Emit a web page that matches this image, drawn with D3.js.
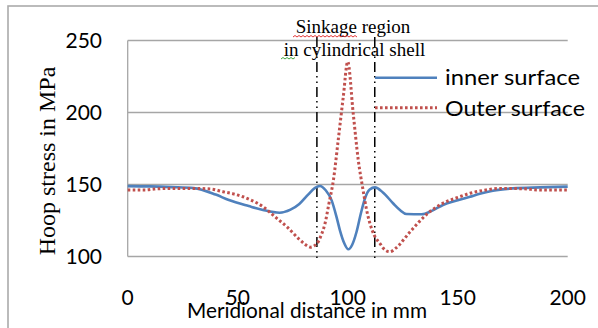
<!DOCTYPE html>
<html>
<head>
<meta charset="utf-8">
<script src="https://cdn.jsdelivr.net/npm/d3@7"></script>
<style>
  body { margin: 0; background: #fff; }
  .grid { stroke: #a6a6a6; stroke-width: 1.3; }
  .tick-label { font-family: Lato, "Open Sans", sans-serif; font-size: 21px; fill: #000; }
</style>
</head>
<body>
<div id="chart"></div>
<script>
// values
const innerX = [0, 10, 20, 30, 40, 46, 55, 61.5, 69, 74, 78, 82, 85, 87.4, 90, 92.7, 95, 96.5, 98.5, 100.3, 102, 104, 106, 108, 110, 112.4, 116, 120.6, 124, 126.7, 133.6, 138, 143.3, 150, 155.6, 160, 166, 175, 187.4, 200];
const innerY = [148.9, 148.7, 148.2, 147.5, 143, 139.2, 135, 132.3, 130.4, 132.5, 136.5, 143, 147.5, 149, 146, 139, 127, 118, 109, 105, 108, 117, 130, 141, 146.5, 148, 144.5, 137, 132, 129.5, 129.3, 131.5, 135.8, 139, 141.5, 143.5, 145.7, 147.3, 148, 148.5];

const outerX = [0, 8, 12, 20, 30, 38, 43.3, 48, 52.4, 57, 61.5, 67, 72.3, 78.3, 81, 83, 86, 88, 89.7, 91.5, 93.5, 95.7, 98, 100, 102.5, 104.8, 107, 108.5, 110.1, 112, 114.7, 117, 119.2, 122, 128.3, 135.9, 143.3, 150, 155.6, 162, 169, 180, 187.4, 200];
const outerY = [146.2, 146.2, 146.8, 147.3, 147.3, 146.8, 145, 143.5, 141.5, 138.5, 134.6, 127.5, 120.7, 111.5, 108, 106.5, 109, 115, 123, 137, 153, 181, 211, 235.3, 199.4, 167, 146, 133, 123, 115, 109, 104.5, 103.3, 106, 117, 129.3, 137, 141, 143.9, 146, 147.3, 147, 146.2, 146.2];

const sinkageBounds = [86, 112.3];
const xTicks = [0, 50, 100, 150, 200];
const yTicks = [100, 150, 200, 250];
const seriesNames = ["inner surface", "Outer surface"];

const inner = innerX.map((x, i) => ({x: x, y: innerY[i]}));
const outer = outerX.map((x, i) => ({x: x, y: outerY[i]}));

const w = 598;
const h = 328;

const svg = d3.select("#chart")
  .append("svg")
  .attr("width", w)
  .attr("height", h);

// outer frame of the chart object
svg.append("rect")
  .attr("x", 8)
  .attr("y", 6)
  .attr("width", w)
  .attr("height", h)
  .attr("fill", "none")
  .attr("stroke", "#ababab")
  .attr("stroke-width", 1.6);

const xScale = d3.scaleLinear()
  .domain([0, 200])
  .range([127.7, 567.7]);

const yScale = d3.scaleLinear()
  .domain([100, 250])
  .range([256.5, 40.5]);

// horizontal gridlines
svg.append("g")
  .selectAll("line")
  .data(yTicks)
  .join("line")
  .attr("class", "grid")
  .attr("x1", xScale(0))
  .attr("x2", xScale(200))
  .attr("y1", d => yScale(d))
  .attr("y2", d => yScale(d));

// left axis line
svg.append("line")
  .attr("class", "grid")
  .attr("x1", xScale(0))
  .attr("x2", xScale(0))
  .attr("y1", yScale(250))
  .attr("y2", yScale(100));

svg.append("g")
  .selectAll("text")
  .data(yTicks)
  .join("text")
  .attr("class", "tick-label")
  .attr("x", 102)
  .attr("y", d => yScale(d) + 7.5)
  .attr("text-anchor", "end")
  .text(d => d);

svg.append("g")
  .selectAll("text")
  .data(xTicks)
  .join("text")
  .attr("class", "tick-label")
  .attr("x", d => xScale(d))
  .attr("y", 305)
  .attr("text-anchor", "middle")
  .text(d => d);

// sinkage region boundaries
svg.append("g")
  .selectAll("line")
  .data(sinkageBounds)
  .join("line")
  .attr("x1", d => xScale(d))
  .attr("x2", d => xScale(d))
  .attr("y1", 37)
  .attr("y2", 262)
  .attr("stroke", "#000")
  .attr("stroke-width", 1.5)
  .attr("stroke-dasharray", "10,4,1.5,4,1.5,4");

const line = d3.line()
  .x(d => xScale(d.x))
  .y(d => yScale(d.y))
  .curve(d3.curveMonotoneX);

svg.append("path")
  .datum(inner)
  .attr("d", line)
  .attr("fill", "none")
  .attr("stroke", "#4f81bd")
  .attr("stroke-width", 2.6);

svg.append("path")
  .datum(outer)
  .attr("d", line)
  .attr("fill", "none")
  .attr("stroke", "#c0504d")
  .attr("stroke-width", 3)
  .attr("stroke-dasharray", "2.6,2.4");

// annotation
const note = svg.append("g")
  .style("font-family", "'Liberation Serif', 'Times New Roman', serif")
  .style("font-size", "19px");

note.append("text")
  .attr("x", 353)
  .attr("y", 33)
  .attr("text-anchor", "middle")
  .text("Sinkage region");

note.append("text")
  .attr("x", 354.5)
  .attr("y", 56)
  .attr("text-anchor", "middle")
  .text("in cylindrical shell");

// spell-check squiggles under "Sinkage" and "in"
function squiggle(x0, x1, y, color) {
  const p = d3.path();
  p.moveTo(x0, y);
  let up = true;
  for (let x = x0 + 2; x <= x1; x += 2) {
    p.lineTo(x, up ? y - 1.5 : y);
    up = !up;
  }
  svg.append("path")
    .attr("d", p.toString())
    .attr("fill", "none")
    .attr("stroke", color)
    .attr("stroke-width", 0.9);
}
squiggle(293, 358, 37, "#e02020");
squiggle(281, 296, 59, "#2c9a2c");

// legend
const legend = svg.append("g")
  .style("font-family", "Lato, 'Open Sans', sans-serif")
  .style("font-size", "22px");

legend.append("line")
  .attr("x1", 375).attr("x2", 437)
  .attr("y1", 77.7).attr("y2", 77.7)
  .attr("stroke", "#4f81bd")
  .attr("stroke-width", 2.6);

legend.append("line")
  .attr("x1", 375).attr("x2", 437)
  .attr("y1", 107.7).attr("y2", 107.7)
  .attr("stroke", "#c0504d")
  .attr("stroke-width", 3)
  .attr("stroke-dasharray", "2.6,2.4");

legend.append("text")
  .attr("x", 445).attr("y", 85)
  .attr("textLength", 135)
  .attr("lengthAdjust", "spacingAndGlyphs")
  .text(seriesNames[0]);

legend.append("text")
  .attr("x", 445).attr("y", 116)
  .attr("textLength", 140)
  .attr("lengthAdjust", "spacingAndGlyphs")
  .text(seriesNames[1]);

// axis titles
svg.append("text")
  .attr("transform", "translate(55," + 161 + ") rotate(-90)")
  .attr("text-anchor", "middle")
  .style("font-family", "'Liberation Serif', 'Times New Roman', serif")
  .style("font-size", "24px")
  .text("Hoop stress in MPa");

svg.append("text")
  .attr("x", 187)
  .attr("y", 318)
  .attr("textLength", 240)
  .attr("lengthAdjust", "spacingAndGlyphs")
  .style("font-family", "Lato, 'Open Sans', sans-serif")
  .style("font-size", "21px")
  .text("Meridional distance in mm");
</script>
</body>
</html>
